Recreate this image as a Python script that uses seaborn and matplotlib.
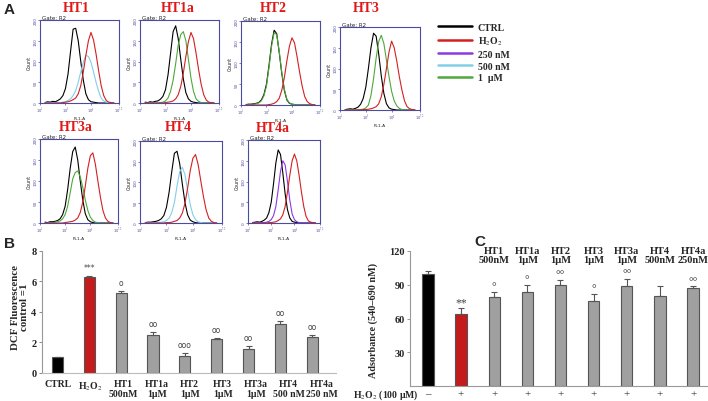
import numpy as np
import pandas as pd
import matplotlib
matplotlib.use("Agg")
import matplotlib.pyplot as plt
import seaborn as sns
from matplotlib.lines import Line2D
from matplotlib.font_manager import FontProperties

sns.set_style("white")
plt.rcParams["font.family"] = ["DejaVu Sans"]
plt.rcParams["mathtext.fontset"] = "stix"
SERIF = "Liberation Serif"

# ---------------- data: panel A (flow cytometry histograms) ----------------
LOGX = [1.4, 1.6, 1.8, 2.0, 2.2, 2.4, 2.6, 2.8, 3.0, 3.2, 3.4, 3.6, 3.8, 4.0,
        4.2, 4.4, 4.6, 4.8, 5.0, 5.2, 5.4, 5.6, 5.8, 6.0, 6.2, 6.4, 6.6, 6.8]

HT1_ctrl = [1, 3, 2, 4, 3, 6, 10, 18, 35, 70, 125, 178, 180, 150, 100, 55, 22, 8, 3, 2, 1, 0, 0, 0, 0, 0, 0, 0]
HT1_h2o2 = [0, 0, 0, 0, 0, 0, 0, 1, 2, 3, 5, 8, 12, 22, 42, 75, 115, 150, 170, 152, 118, 78, 42, 18, 6, 2, 1, 0]
HT1_trt = [0, 0, 0, 0, 0, 1, 1, 2, 3, 6, 10, 18, 30, 50, 75, 98, 115, 112, 98, 75, 50, 28, 12, 5, 2, 0, 0, 0]

HT1a_ctrl = [2, 1, 3, 2, 4, 5, 9, 16, 32, 68, 120, 172, 186, 155, 105, 58, 25, 10, 4, 2, 1, 0, 0, 0, 0, 0, 0, 0]
HT1a_h2o2 = [0, 0, 0, 0, 0, 0, 0, 0, 1, 2, 3, 5, 10, 20, 40, 72, 112, 148, 170, 155, 120, 80, 45, 20, 7, 2, 1, 0]
HT1a_trt = [0, 0, 0, 0, 0, 0, 1, 2, 5, 12, 28, 55, 95, 140, 165, 172, 150, 105, 60, 28, 10, 4, 1, 0, 0, 0, 0, 0]

HT2_ctrl = [1, 2, 2, 3, 4, 6, 12, 25, 50, 95, 145, 178, 170, 125, 75, 35, 12, 4, 2, 1, 0, 0, 0, 0, 0, 0, 0, 0]
HT2_h2o2 = [0, 0, 0, 0, 0, 0, 0, 0, 0, 1, 2, 4, 8, 16, 35, 65, 105, 140, 160, 148, 115, 78, 45, 20, 8, 3, 1, 0]
HT2_trt = [0, 1, 1, 2, 3, 5, 10, 22, 45, 90, 140, 172, 168, 128, 78, 38, 14, 5, 2, 1, 0, 0, 0, 0, 0, 0, 0, 0]

HT3_ctrl = [1, 2, 3, 2, 4, 7, 14, 28, 55, 100, 150, 185, 178, 135, 82, 40, 15, 5, 2, 1, 0, 0, 0, 0, 0, 0, 0, 0]
HT3_h2o2 = [0, 0, 0, 0, 0, 0, 0, 1, 1, 2, 3, 5, 8, 15, 32, 62, 100, 140, 166, 150, 118, 80, 48, 22, 8, 3, 1, 0]
HT3_trt = [0, 0, 0, 0, 0, 1, 1, 2, 5, 12, 35, 75, 125, 165, 180, 160, 120, 80, 45, 22, 10, 4, 1, 0, 0, 0, 0, 0]

HT3a_ctrl = [2, 1, 3, 3, 4, 6, 10, 20, 40, 80, 130, 170, 181, 150, 100, 55, 22, 8, 3, 1, 0, 0, 0, 0, 0, 0, 0, 0]
HT3a_h2o2 = [0, 0, 0, 0, 0, 0, 0, 0, 1, 2, 3, 4, 7, 12, 25, 50, 88, 130, 160, 167, 140, 100, 62, 30, 12, 4, 1, 0]
HT3a_trt = [0, 0, 1, 1, 2, 3, 5, 10, 20, 40, 72, 105, 120, 124, 110, 85, 55, 30, 14, 6, 2, 1, 0, 0, 0, 0, 0, 0]

HT4_ctrl = [1, 2, 2, 3, 4, 6, 10, 18, 38, 75, 125, 170, 175, 145, 95, 50, 20, 7, 3, 1, 0, 0, 0, 0, 0, 0, 0, 0]
HT4_h2o2 = [0, 0, 0, 0, 0, 0, 0, 0, 1, 1, 2, 4, 6, 12, 24, 48, 85, 128, 158, 167, 142, 102, 64, 32, 12, 4, 1, 0]
HT4_trt = [0, 0, 0, 0, 0, 1, 2, 3, 6, 12, 25, 50, 90, 125, 136, 118, 80, 45, 20, 8, 3, 1, 0, 0, 0, 0, 0, 0]

HT4a_ctrl = [1, 2, 3, 2, 4, 7, 12, 25, 50, 95, 145, 176, 165, 120, 70, 32, 12, 4, 2, 1, 0, 0, 0, 0, 0, 0, 0, 0]
HT4a_h2o2 = [0, 0, 0, 0, 0, 0, 0, 1, 1, 2, 3, 6, 10, 20, 40, 75, 115, 150, 166, 150, 115, 75, 40, 16, 5, 2, 1, 0]
HT4a_trt = [0, 0, 0, 0, 1, 1, 2, 4, 8, 18, 40, 80, 125, 150, 140, 100, 55, 22, 8, 3, 1, 0, 0, 0, 0, 0, 0, 0]

LEGEND_LABELS = ["CTRL", "H$_2$O$_2$", "250 nM", "500 nM", "1  µM"]

# ---------------- data: panel B ----------------
B_LABELS = ["CTRL", "H$_2$O$_2$", "HT1\n500nM", "HT1a\n1µM", "HT2\n1µM", "HT3\n1µM",
            "HT3a\n1µM", "HT4\n500 nM", "HT4a\n250 nM"]
B_VALUES = [1.0, 6.3, 5.25, 2.5, 1.1, 2.2, 1.55, 3.2, 2.35]
B_ERRORS = [0.05, 0.08, 0.1, 0.15, 0.18, 0.08, 0.18, 0.22, 0.15]
B_SIG = ["", "***", "o", "oo", "ooo", "oo", "oo", "oo", "oo"]

# ---------------- data: panel C ----------------
C_TOP_LABELS = ["", "", "HT1\n500nM", "HT1a\n1µM", "HT2\n1µM", "HT3\n1µM", "HT3a\n1µM",
                "HT4\n500nM", "HT4a\n250nM"]
C_VALUES = [100, 64, 79, 84, 90, 76, 89, 80, 87]
C_ERRORS = [2.5, 5, 5, 6, 4.5, 6, 6.5, 8.5, 1.5]
C_SIG = ["", "**", "°", "°", "°°", "°", "°°", "", "°°"]
C_H2O2 = ["–", "+", "+", "+", "+", "+", "+", "+", "+"]

# ---------------- styling ----------------
W, H = 708, 402
fig = plt.figure(figsize=(W / 100, H / 100), dpi=100)


def add_ax(x0, y0, x1, y1):
    return fig.add_axes([x0 / W, 1 - y1 / H, (x1 - x0) / W, (y1 - y0) / H])


COL = {"ctrl": "#000000", "h2o2": "#d42020", "250 nM": "#8a3ae0",
       "500 nM": "#80d0e8", "1 µM": "#4fa83a"}
BOXC = "#4b4ba0"

hist_panels = [
    ("HT1", (40, 21, 119, 104), (76, 8), HT1_ctrl, HT1_trt, "500 nM", HT1_h2o2),
    ("HT1a", (140, 21, 219, 104), (178, 8), HT1a_ctrl, HT1a_trt, "1 µM", HT1a_h2o2),
    ("HT2", (241, 22, 320, 106), (273, 8), HT2_ctrl, HT2_trt, "1 µM", HT2_h2o2),
    ("HT3", (340, 28, 420, 111), (366, 8), HT3_ctrl, HT3_trt, "1 µM", HT3_h2o2),
    ("HT3a", (40, 140, 118, 224), (76, 127.5), HT3a_ctrl, HT3a_trt, "1 µM", HT3a_h2o2),
    ("HT4", (140, 142, 222, 224), (178, 127.5), HT4_ctrl, HT4_trt, "500 nM", HT4_h2o2),
    ("HT4a", (248, 141, 320, 224), (273, 128), HT4a_ctrl, HT4a_trt, "250 nM", HT4a_h2o2),
]

xs = 10 ** np.array(LOGX)
for title, box, tpos, ctrl, trt, trt_key, h2o2 in hist_panels:
    ax = add_ax(*box)
    sns.lineplot(x=xs, y=ctrl, ax=ax, color=COL["ctrl"], lw=0.8, legend=False)
    sns.lineplot(x=xs, y=trt, ax=ax, color=COL[trt_key], lw=0.8, legend=False)
    sns.lineplot(x=xs, y=h2o2, ax=ax, color=COL["h2o2"], lw=0.8, legend=False)
    ax.set_xscale("log")
    ax.set_xlim(10 ** 1, 10 ** 7.2)
    ax.set_ylim(0, 200)
    for sp in ax.spines.values():
        sp.set_color(BOXC)
        sp.set_linewidth(0.8)
    ax.set_yticks([0, 50, 100, 150, 200])
    ax.set_yticklabels(["0", "50", "100", "150", "200"], fontsize=3.0, rotation=90,
                       va="center", color=BOXC)
    ax.set_xticks([10 ** 1, 10 ** 3, 10 ** 5, 10 ** 7.2])
    ax.set_xticklabels(["10$^1$", "10$^3$", "10$^5$", "10$^{7.2}$"], fontsize=2.6,
                       rotation=0, color=BOXC)
    ax.tick_params(axis="both", which="major", length=1.5, width=0.5, pad=0.4,
                   color=BOXC, left=True, bottom=True)
    ax.tick_params(axis="x", which="minor", length=1.0, width=0.4, color=BOXC, bottom=True)
    ax.set_xlabel("FL1-A", fontsize=3.2, labelpad=0.3)
    ax.set_ylabel("Count", fontsize=3.4, labelpad=1)
    ax.text(0.03, 1.005, "Gate: R2", transform=ax.transAxes, fontsize=4.0,
            va="bottom", ha="left", color="#222222")
    fig.text(tpos[0] / W, 1 - tpos[1] / H, title, color="#e01818", fontsize=10,
             fontweight="bold", family=SERIF, ha="center", va="center")

# legend
handles = [Line2D([], [], color=c, lw=1.8) for c in
           [COL["ctrl"], COL["h2o2"], COL["250 nM"], COL["500 nM"], COL["1 µM"]]]
fig.legend(handles, LEGEND_LABELS, loc="upper left",
           bbox_to_anchor=(433 / W, 1 - 19 / H), frameon=False,
           prop=FontProperties(family=SERIF, weight="bold", size=7),
           handlelength=3.5, handletextpad=0.6, labelspacing=0.28, borderpad=0)

# panel labels
for lab, (px, py) in {"A": (4, 10), "B": (4, 244), "C": (474, 242)}.items():
    fig.text(px / W, 1 - py / H, lab, fontsize=11, fontweight="bold",
             family="Liberation Sans", ha="left", va="center")

# ---------------- panel B ----------------
axB = add_ax(42, 252, 336, 373.5)
dfB = pd.DataFrame({"label": B_LABELS, "value": B_VALUES})
b_colors = ["#000000", "#e00000"] + ["#a0a0a0"] * 7
sns.barplot(data=dfB, x="label", y="value", hue="label", palette=b_colors,
            legend=False, width=0.35, ax=axB, edgecolor="#555555", linewidth=0.8,
            errorbar=None)
axB.errorbar(np.arange(len(B_VALUES)), B_VALUES,
             yerr=[np.zeros(len(B_ERRORS)), B_ERRORS], fmt="none",
             ecolor="#555555", elinewidth=0.8, capsize=2.2, capthick=0.8)
for i, (v, e, s) in enumerate(zip(B_VALUES, B_ERRORS, B_SIG)):
    if s:
        axB.text(i, v + e + 0.55, s, ha="center", va="center", fontsize=5.5,
                 family="DejaVu Sans", color="#444444")
axB.set_xlim(-0.49, 8.75)
axB.set_ylim(0, 8)
axB.set_yticks([0, 2, 4, 6, 8])
axB.set_yticklabels(["0", "2", "4", "6", "8"], family=SERIF, fontweight="bold", fontsize=7.5)
axB.set_xticks(np.linspace(0, 8.3, 9))
axB.set_xticklabels(B_LABELS, family=SERIF, fontweight="bold", fontsize=7)
for t in axB.get_xticklabels():
    t.set_linespacing(1.1)
axB.tick_params(axis="y", length=2, width=0.6, pad=2, left=True, color="#777777")
axB.tick_params(axis="x", length=0, pad=5)
axB.set_xlabel("")
axB.set_ylabel("")
sns.despine(ax=axB)
axB.spines["left"].set_color("#999999")
axB.spines["bottom"].set_color("#bbbbbb")
fig.text(20 / W, 1 - 307 / H, "DCF Fluorescence\ncontrol =1", rotation=90,
         family=SERIF, fontweight="bold", fontsize=7.8, ha="center", va="center",
         multialignment="center", linespacing=1.1)

# ---------------- panel C ----------------
axC = add_ax(410, 252, 707, 387)
dfC = pd.DataFrame({"pos": [str(i) for i in range(9)], "value": C_VALUES})
c_colors = ["#000000", "#e00000"] + ["#a0a0a0"] * 7
sns.barplot(data=dfC, x="pos", y="value", hue="pos", palette=c_colors, legend=False,
            width=0.34, ax=axC, edgecolor="#555555", linewidth=0.8, errorbar=None)
axC.errorbar(np.arange(len(C_VALUES)), C_VALUES,
             yerr=[np.zeros(len(C_ERRORS)), C_ERRORS], fmt="none",
             ecolor="#555555", elinewidth=0.8, capsize=2.2, capthick=0.8)
for i, (v, e, s) in enumerate(zip(C_VALUES, C_ERRORS, C_SIG)):
    if s:
        axC.text(i, v + e + 5, s, ha="center", va="center", fontsize=8.5,
                 family=SERIF, color="#444444")
for i, lab in enumerate(C_TOP_LABELS):
    if lab:
        l1, l2 = lab.split("\n")
        axC.text(i, 120.4, l1, ha="center", va="center", family=SERIF,
                 fontweight="bold", fontsize=7.5, clip_on=False)
        axC.text(i, 112.8, l2, ha="center", va="center", family=SERIF,
                 fontweight="bold", fontsize=7.5, clip_on=False)
axC.set_xlim(-0.54, 8.42)
axC.set_ylim(0, 120)
axC.set_yticks([30, 60, 90, 120])
axC.set_yticklabels(["30", "60", "90", "120"], family=SERIF, fontweight="bold", fontsize=7.5)
axC.set_xticks(np.arange(9))
axC.set_xticklabels(C_H2O2, family=SERIF, fontsize=8)
axC.tick_params(axis="y", length=2, width=0.6, pad=1.5, left=True, color="#888888")
axC.tick_params(axis="x", length=0, pad=2)
axC.set_xlabel("")
axC.set_ylabel("")
sns.despine(ax=axC)
axC.spines["left"].set_color("#999999")
axC.spines["bottom"].set_color("#999999")
fig.text(373 / W, 1 - 320 / H, "Adsorbance (540–690 nM)", rotation=90, family=SERIF,
         fontweight="bold", fontsize=7.3, ha="center", va="center")
fig.text(419 / W, 1 - 395 / H, "H$_2$O$_2$ (100 µM)", family=SERIF, fontweight="bold",
         fontsize=7, ha="right", va="center")

fig.savefig("out.png", dpi=100)
